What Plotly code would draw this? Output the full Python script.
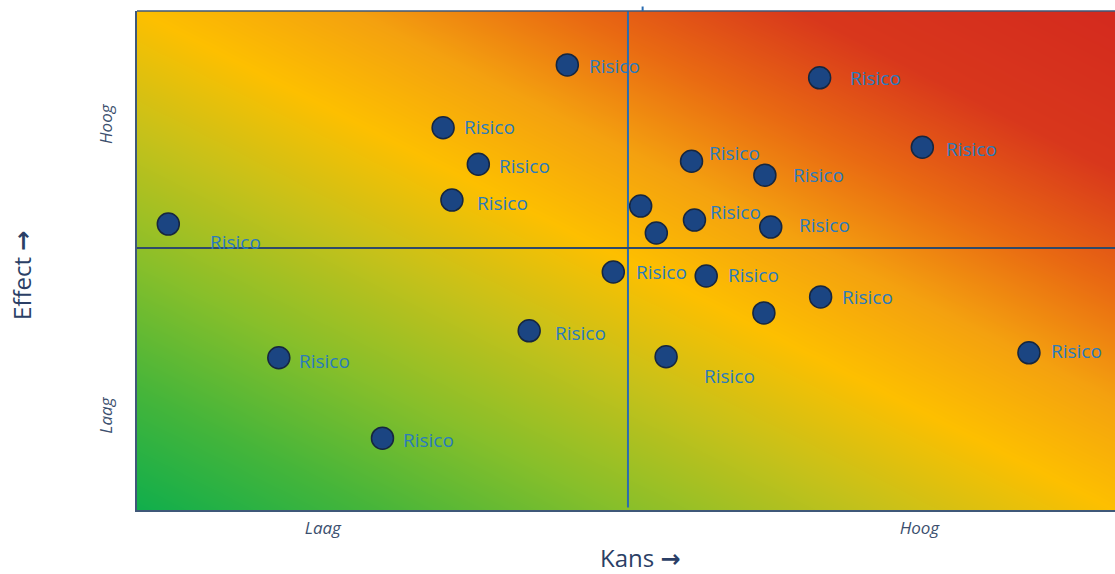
import plotly.graph_objects as go
import numpy as np

# Data (0-100 scale on both axes: Kans / Effect)
kans = [3.2, 44.0, 69.8, 31.3, 34.9, 32.2, 56.7, 64.2, 80.3, 51.5, 53.1,
        57.0, 64.8, 48.7, 58.2, 69.9, 64.1, 40.1, 14.5, 54.1, 91.2, 25.1]
effect = [57.3, 89.2, 86.6, 76.6, 69.3, 62.1, 69.9, 67.1, 72.7, 60.9, 55.5,
          58.1, 56.7, 47.7, 46.9, 42.7, 39.5, 35.9, 30.5, 30.7, 31.5, 14.4]
labels = ["Risico", "Risico", "Risico", "Risico", "Risico", "Risico", "Risico",
          "Risico", "Risico", "", "", "Risico", "Risico", "Risico", "Risico",
          "Risico", "", "Risico", "Risico", "Risico", "Risico", "Risico"]

x_tickvals = [19, 80]
x_ticktext = ["Laag", "Hoog"]
y_tickvals = [18.4, 76.8]
y_ticktext = ["Laag", "Hoog"]
kans_mid = 50.2
effect_mid = 52.5

# label pixel offsets (layout only)
label_shift = [(40, -18), (20, -1), (28, 0), (19, 1), (19, -2), (23, -3), (15, 8),
               (26, 0), (22, -2), (0, 0), (0, 0), (14, 8), (26, 2), (21, 0),
               (20, 1), (19, 0), (0, 0), (24, -2), (18, -3), (36, -19), (20, 2), (19, -2)]

# background gradient
gx = np.linspace(0, 100, 61)
gy = np.linspace(0, 100, 61)
GX, GY = np.meshgrid(gx, gy)
GZ = (GX + GY) / 200.0

colorscale = [
    [0.0, "#10ae4c"],
    [0.12, "#45b53a"],
    [0.25, "#88bf2a"],
    [0.38, "#c6c11a"],
    [0.5, "#fdbf00"],
    [0.61, "#f4a10f"],
    [0.72, "#e96a12"],
    [0.84, "#d8371c"],
    [1.0, "#d42a1e"],
]

fig = go.Figure()
fig.add_trace(go.Heatmap(x=gx, y=gy, z=GZ, colorscale=colorscale, zmin=0, zmax=1,
                         zsmooth="best", showscale=False, hoverinfo="skip"))

fig.add_trace(go.Scatter(
    x=kans, y=effect, mode="markers",
    marker=dict(size=22, color="#1b4582", line=dict(color="#16263f", width=1.5)),
    hoverinfo="skip", showlegend=False))

annotations = []
for xv, yv, t, (dx, dy) in zip(kans, effect, labels, label_shift):
    if not t:
        continue
    annotations.append(dict(x=xv, y=yv, xref="x", yref="y", text=t, showarrow=False,
                            xanchor="left", yanchor="middle", xshift=dx, yshift=dy,
                            font=dict(family="Open Sans", size=19, color="#2a7bbd")))

arrow = "<b><span style='font-family:DejaVu Sans'>\u2192</span></b>"
annotations.append(dict(x=0.515, y=0, xref="paper", yref="paper", text="Kans " + arrow,
                        showarrow=False, xanchor="center", yanchor="middle", yshift=-47,
                        font=dict(family="Open Sans", size=24, color="#2b3f66")))
annotations.append(dict(x=-0.1176, y=0.471, xref="paper", yref="paper", text="Effect " + arrow,
                        showarrow=False, xanchor="center", yanchor="middle", textangle=-90,
                        font=dict(family="Open Sans", size=24, color="#2b3f66")))

shapes = [
    dict(type="line", xref="x", yref="y", x0=kans_mid, x1=kans_mid, y0=0.5, y1=100,
         line=dict(color="#2a6cb0", width=2)),
    dict(type="line", xref="x", yref="y", x0=0, x1=100, y0=effect_mid, y1=effect_mid,
         line=dict(color="#2f4a6a", width=2)),
    dict(type="line", xref="paper", yref="paper", x0=0, x1=1, y0=1, y1=1,
         line=dict(color="#3f5878", width=1.5)),
    dict(type="line", xref="paper", yref="paper", x0=0.517, x1=0.517, y0=1, y1=1.009,
         line=dict(color="#2a6cb0", width=2)),
]

fig.update_layout(
    width=1115, height=574,
    margin=dict(l=137, r=0, t=11, b=64),
    paper_bgcolor="white", plot_bgcolor="white",
    showlegend=False,
    annotations=annotations, shapes=shapes,
    xaxis=dict(range=[0, 100], tickvals=x_tickvals, ticktext=x_ticktext,
               showgrid=False, zeroline=False, showline=True, linecolor="#3f5878", linewidth=1.5,
               ticks="", ticklabelstandoff=2,
               tickfont=dict(family="Open Sans", size=17, color="#3c4f6e", style="italic")),
    yaxis=dict(range=[0, 100], tickvals=y_tickvals, ticktext=y_ticktext, tickangle=-90,
               showgrid=False, zeroline=False, showline=True, linecolor="#3f5878", linewidth=1.5,
               ticks="", ticklabelstandoff=16,
               tickfont=dict(family="Open Sans", size=17, color="#3c4f6e", style="italic")),
)

post = ("document.body.style.margin='0';document.body.style.overflow='hidden';"
        "document.documentElement.style.overflow='hidden';")
fig.write_html("out.html", post_script=post, config={"displayModeBar": False})
